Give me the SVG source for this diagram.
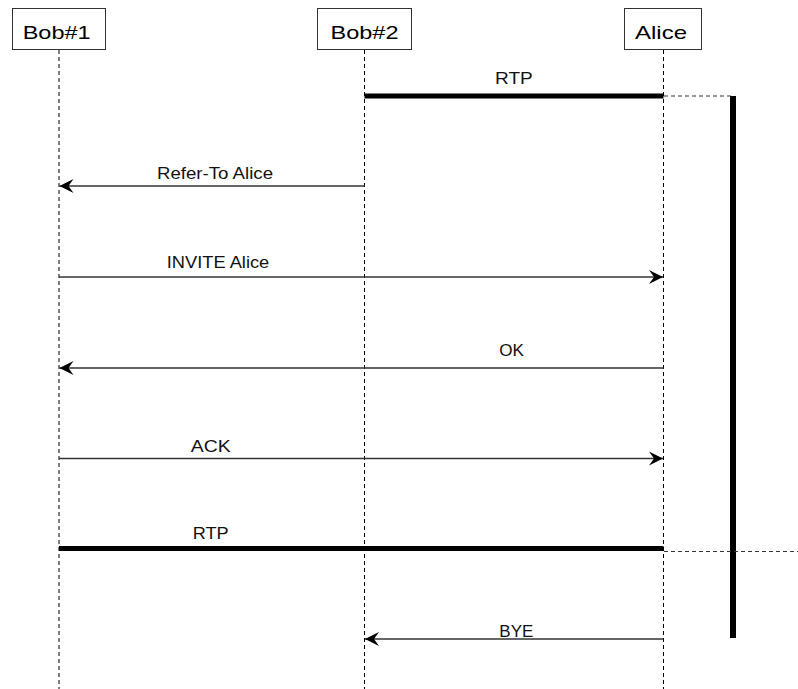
<svg xmlns="http://www.w3.org/2000/svg" width="798" height="689" viewBox="0 0 798 689">
<defs>
<style>
.box{fill:#fff;stroke:#333;stroke-width:1}
.name{font-family:"Liberation Sans",Arial,sans-serif;font-size:19px;fill:#000}
.lbl{font-family:"Liberation Sans",Arial,sans-serif;font-size:16px;fill:#111}
.life{stroke:#000;stroke-width:1;stroke-dasharray:4,3;fill:none}
.msg{stroke:#333;stroke-width:1.4;fill:none}
.rtp{stroke:#000;stroke-width:5;fill:none}
.ext{stroke:#333;stroke-width:1;stroke-dasharray:4,3;fill:none}
</style>
<marker id="ah" markerUnits="userSpaceOnUse" markerWidth="16" markerHeight="16" viewBox="-15 -8 16 16" refX="0" refY="0" orient="auto">
<path d="M0,0 L-14,-7 L-9,0 L-14,7 Z" fill="#000"/>
</marker>
</defs>
<rect width="798" height="689" fill="#fff"/>
<g id="bob1">
<rect class="box" x="12.5" y="8.5" width="93" height="41"/>
<text class="name" x="22.7" y="39" textLength="68" lengthAdjust="spacingAndGlyphs">Bob#1</text>
<line class="life" x1="59" y1="50" x2="59" y2="689"/>
</g>
<g id="bob2">
<rect class="box" x="317.5" y="8.5" width="94" height="41"/>
<text class="name" x="330.5" y="39" textLength="68" lengthAdjust="spacingAndGlyphs">Bob#2</text>
<line class="life" x1="364.5" y1="50" x2="364.5" y2="689"/>
</g>
<g id="alice">
<rect class="box" x="624.5" y="8.5" width="77" height="41"/>
<text class="name" x="635" y="39" textLength="52" lengthAdjust="spacingAndGlyphs">Alice</text>
<line class="life" x1="663.5" y1="50" x2="663.5" y2="689"/>
</g>
<g id="connectors">
<line class="rtp" x1="364.5" y1="96" x2="663.5" y2="96"/>
<text class="lbl" x="495" y="84" textLength="37.7" lengthAdjust="spacingAndGlyphs">RTP</text>
<line class="ext" x1="664" y1="96" x2="733" y2="96"/>
<line stroke="#000" stroke-width="6" x1="733" y1="96" x2="733" y2="638"/>

<line class="msg" x1="364.5" y1="186" x2="59.5" y2="186" marker-end="url(#ah)"/>
<text class="lbl" x="157" y="179.3" textLength="116" lengthAdjust="spacingAndGlyphs">Refer-To Alice</text>

<line class="msg" x1="59" y1="277" x2="663" y2="277" marker-end="url(#ah)"/>
<text class="lbl" x="166.7" y="268.3" textLength="102.6" lengthAdjust="spacingAndGlyphs">INVITE Alice</text>

<line class="msg" x1="663.5" y1="368" x2="59.5" y2="368" marker-end="url(#ah)"/>
<text class="lbl" x="499.3" y="356" textLength="24.7" lengthAdjust="spacingAndGlyphs">OK</text>

<line class="msg" x1="59" y1="458.5" x2="663" y2="458.5" marker-end="url(#ah)"/>
<text class="lbl" x="190.7" y="451.7" textLength="40" lengthAdjust="spacingAndGlyphs">ACK</text>

<line class="rtp" x1="59" y1="548.5" x2="663.5" y2="548.5"/>
<text class="lbl" x="192.7" y="539.3" textLength="36" lengthAdjust="spacingAndGlyphs">RTP</text>
<line class="ext" x1="664" y1="551.5" x2="798" y2="551.5"/>

<line class="msg" x1="663.5" y1="639" x2="365" y2="639" marker-end="url(#ah)"/>
<text class="lbl" x="499.3" y="636.7" textLength="34" lengthAdjust="spacingAndGlyphs">BYE</text>
</g>
</svg>
